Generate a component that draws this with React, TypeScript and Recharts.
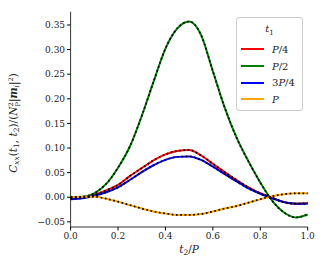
import React from 'react';
import { LineChart, Line, XAxis, YAxis, Legend } from 'recharts';

// t2/P sample positions
const tValues = [0, 0.05, 0.1, 0.15, 0.2, 0.25, 0.3, 0.35, 0.4, 0.45, 0.5, 0.55, 0.6, 0.65, 0.7, 0.75, 0.8, 0.85, 0.9, 0.95, 1.0];

// C_xx for each t1
const quarterP = [-0.002, -0.001, 0.005, 0.014, 0.025, 0.043, 0.059, 0.075, 0.087, 0.094, 0.096, 0.085, 0.068, 0.051, 0.035, 0.020, 0.008, -0.001, -0.010, -0.013, -0.012];
const halfP = [0.0, 0.001, 0.008, 0.027, 0.06, 0.103, 0.165, 0.235, 0.302, 0.343, 0.357, 0.330, 0.256, 0.182, 0.121, 0.073, 0.030, -0.007, -0.031, -0.041, -0.035];
const threeQuarterP = [-0.004, -0.002, 0.003, 0.010, 0.020, 0.035, 0.051, 0.065, 0.076, 0.082, 0.083, 0.076, 0.062, 0.047, 0.032, 0.018, 0.007, -0.002, -0.010, -0.013, -0.013];
const fullP = [0.0, 0.001, 0.001, -0.003, -0.009, -0.016, -0.023, -0.029, -0.033, -0.036, -0.036, -0.034, -0.029, -0.023, -0.018, -0.011, -0.004, 0.002, 0.006, 0.008, 0.008];

const seriesKeys = ['quarter', 'half', 'threeQuarter', 'full'];
const seriesNames = ['P/4', 'P/2', '3P/4', 'P'];
const seriesColors = ['#ff0000', '#008000', '#0000ff', '#ffa500'];

const xTicks = [0, 0.2, 0.4, 0.6, 0.8, 1.0];
const yTicks = [-0.05, 0, 0.05, 0.1, 0.15, 0.2, 0.25, 0.3, 0.35];

const data = tValues.map((t, i) => ({
  t,
  quarter: quarterP[i],
  half: halfP[i],
  threeQuarter: threeQuarterP[i],
  full: fullP[i],
}));

const FONT = '"DejaVu Serif", serif';
const tickStyle = { fill: '#222', fontFamily: FONT, fontSize: 9, style: { fontFamily: FONT } };

const fmtY = (v: number) => (v < 0 ? '\u2212' : '') + Math.abs(v).toFixed(2);
const fmtX = (v: number) => v.toFixed(1);

// italic P, upright digits and slash
const MathName = ({ name }: { name: string }) => (
  <span>
    {name.split('').map((c, i) =>
      c === 'P' ? <i key={i}>P</i> : <span key={i}>{c}</span>
    )}
  </span>
);

const YLabel = () => (
  <text
    transform="translate(17,123) rotate(-90)"
    textAnchor="middle"
    style={{ fontFamily: FONT }}
    fontSize={10.5}
    fill="#222"
  >
    <tspan fontStyle="italic">C</tspan>
    <tspan fontStyle="italic" fontSize={7.5} dy={2}>xx</tspan>
    <tspan dy={-2}>(</tspan>
    <tspan fontStyle="italic">t</tspan>
    <tspan fontSize={7.5} dy={2}>1</tspan>
    <tspan dy={-2}>, </tspan>
    <tspan fontStyle="italic">t</tspan>
    <tspan fontSize={7.5} dy={2}>2</tspan>
    <tspan dy={-2}>)/(</tspan>
    <tspan fontStyle="italic">N</tspan>
    <tspan fontSize={6.5} dy={-4}>2</tspan>
    <tspan fontSize={6.5} dx={-4} dy={7}>P</tspan>
    <tspan dy={-3}>|</tspan>
    <tspan fontWeight="bold" fontStyle="italic">m</tspan>
    <tspan fontStyle="italic" fontSize={7.5} dy={2}>i</tspan>
    <tspan dy={-2}>|</tspan>
    <tspan fontSize={6.5} dy={-4}>2</tspan>
    <tspan dy={4}>)</tspan>
  </text>
);

const XLabel = () => (
  <text x={189} y={253} textAnchor="middle" style={{ fontFamily: FONT }} fontSize={10.5} fill="#222">
    <tspan fontStyle="italic">t</tspan>
    <tspan fontSize={7.5} dy={2}>2</tspan>
    <tspan dy={-2}>/</tspan>
    <tspan fontStyle="italic">P</tspan>
  </text>
);

const LegendBox = ({ payload }: any) => {
  const items = (payload || [])
    .filter((p: any) => p.type !== 'none')
    .sort((a: any, b: any) => seriesNames.indexOf(a.value) - seriesNames.indexOf(b.value));
  return (
    <div
      style={{
        border: '1px solid #cccccc',
        borderRadius: 3,
        background: 'rgba(255,255,255,0.8)',
        fontFamily: FONT,
        fontSize: 10,
        color: '#222',
        padding: '3px 4px 2px 4px',
        width: 57,
      }}
    >
      <div style={{ textAlign: 'center', fontStyle: 'italic', lineHeight: '15px' }}>
        t<sub style={{ fontStyle: 'normal', fontSize: 7 }}>1</sub>
      </div>
      {items.map((p: any) => (
        <div key={p.value} style={{ display: 'flex', alignItems: 'center', height: 16.7 }}>
          <div style={{ width: 23, height: 2, background: p.color, marginRight: 8 }} />
          <MathName name={p.value} />
        </div>
      ))}
    </div>
  );
};

export default function App() {
  return (
    <div style={{ position: 'absolute', left: 0, top: 0, fontFamily: FONT }}>
      <LineChart
        width={327}
        height={276}
        data={data}
        margin={{ top: 11.7, right: 19.3, bottom: 19, left: 0 }}
        style={{ fontFamily: FONT }}
      >
        <XAxis
          dataKey="t"
          type="number"
          domain={[0, 1]}
          ticks={xTicks}
          tickFormatter={fmtX}
          tick={tickStyle}
          tickSize={3.5}
          tickLine={{ stroke: '#000' }}
          axisLine={{ stroke: '#000', strokeWidth: 0.8 }}
          height={30}
          label={<XLabel />}
        />
        <XAxis xAxisId="top" orientation="top" dataKey="t" type="number" domain={[0, 1]} tick={false} tickLine={false} axisLine={{ stroke: '#000', strokeWidth: 0.8 }} height={0} />
        <YAxis
          type="number"
          domain={[-0.0605, 0.377]}
          ticks={yTicks}
          tickFormatter={fmtY}
          tick={tickStyle}
          tickSize={3.5}
          tickLine={{ stroke: '#000' }}
          axisLine={{ stroke: '#000', strokeWidth: 0.8 }}
          width={70.6}
          allowDataOverflow
          label={<YLabel />}
        />
        <YAxis yAxisId="right" orientation="right" type="number" domain={[-0.0605, 0.377]} tick={false} tickLine={false} axisLine={{ stroke: '#000', strokeWidth: 0.8 }} width={0} />
        {seriesKeys.map((k, i) => (
          <Line
            key={k}
            dataKey={k}
            name={seriesNames[i]}
            type="monotone"
            stroke={seriesColors[i]}
            strokeWidth={2}
            dot={false}
            isAnimationActive={false}
          />
        ))}
        {seriesKeys.map((k) => (
          <Line
            key={k + '-fit'}
            dataKey={k}
            type="monotone"
            stroke="#000"
            strokeWidth={1.7}
            strokeDasharray="1.7 2.6"
            dot={false}
            legendType="none"
            isAnimationActive={false}
          />
        ))}
        <Legend
          layout="horizontal"
          verticalAlign="middle"
          align="center"
          content={<LegendBox />}
          wrapperStyle={{ position: 'absolute', left: 236, top: 17, width: 67 }}
        />
      </LineChart>
    </div>
  );
}
